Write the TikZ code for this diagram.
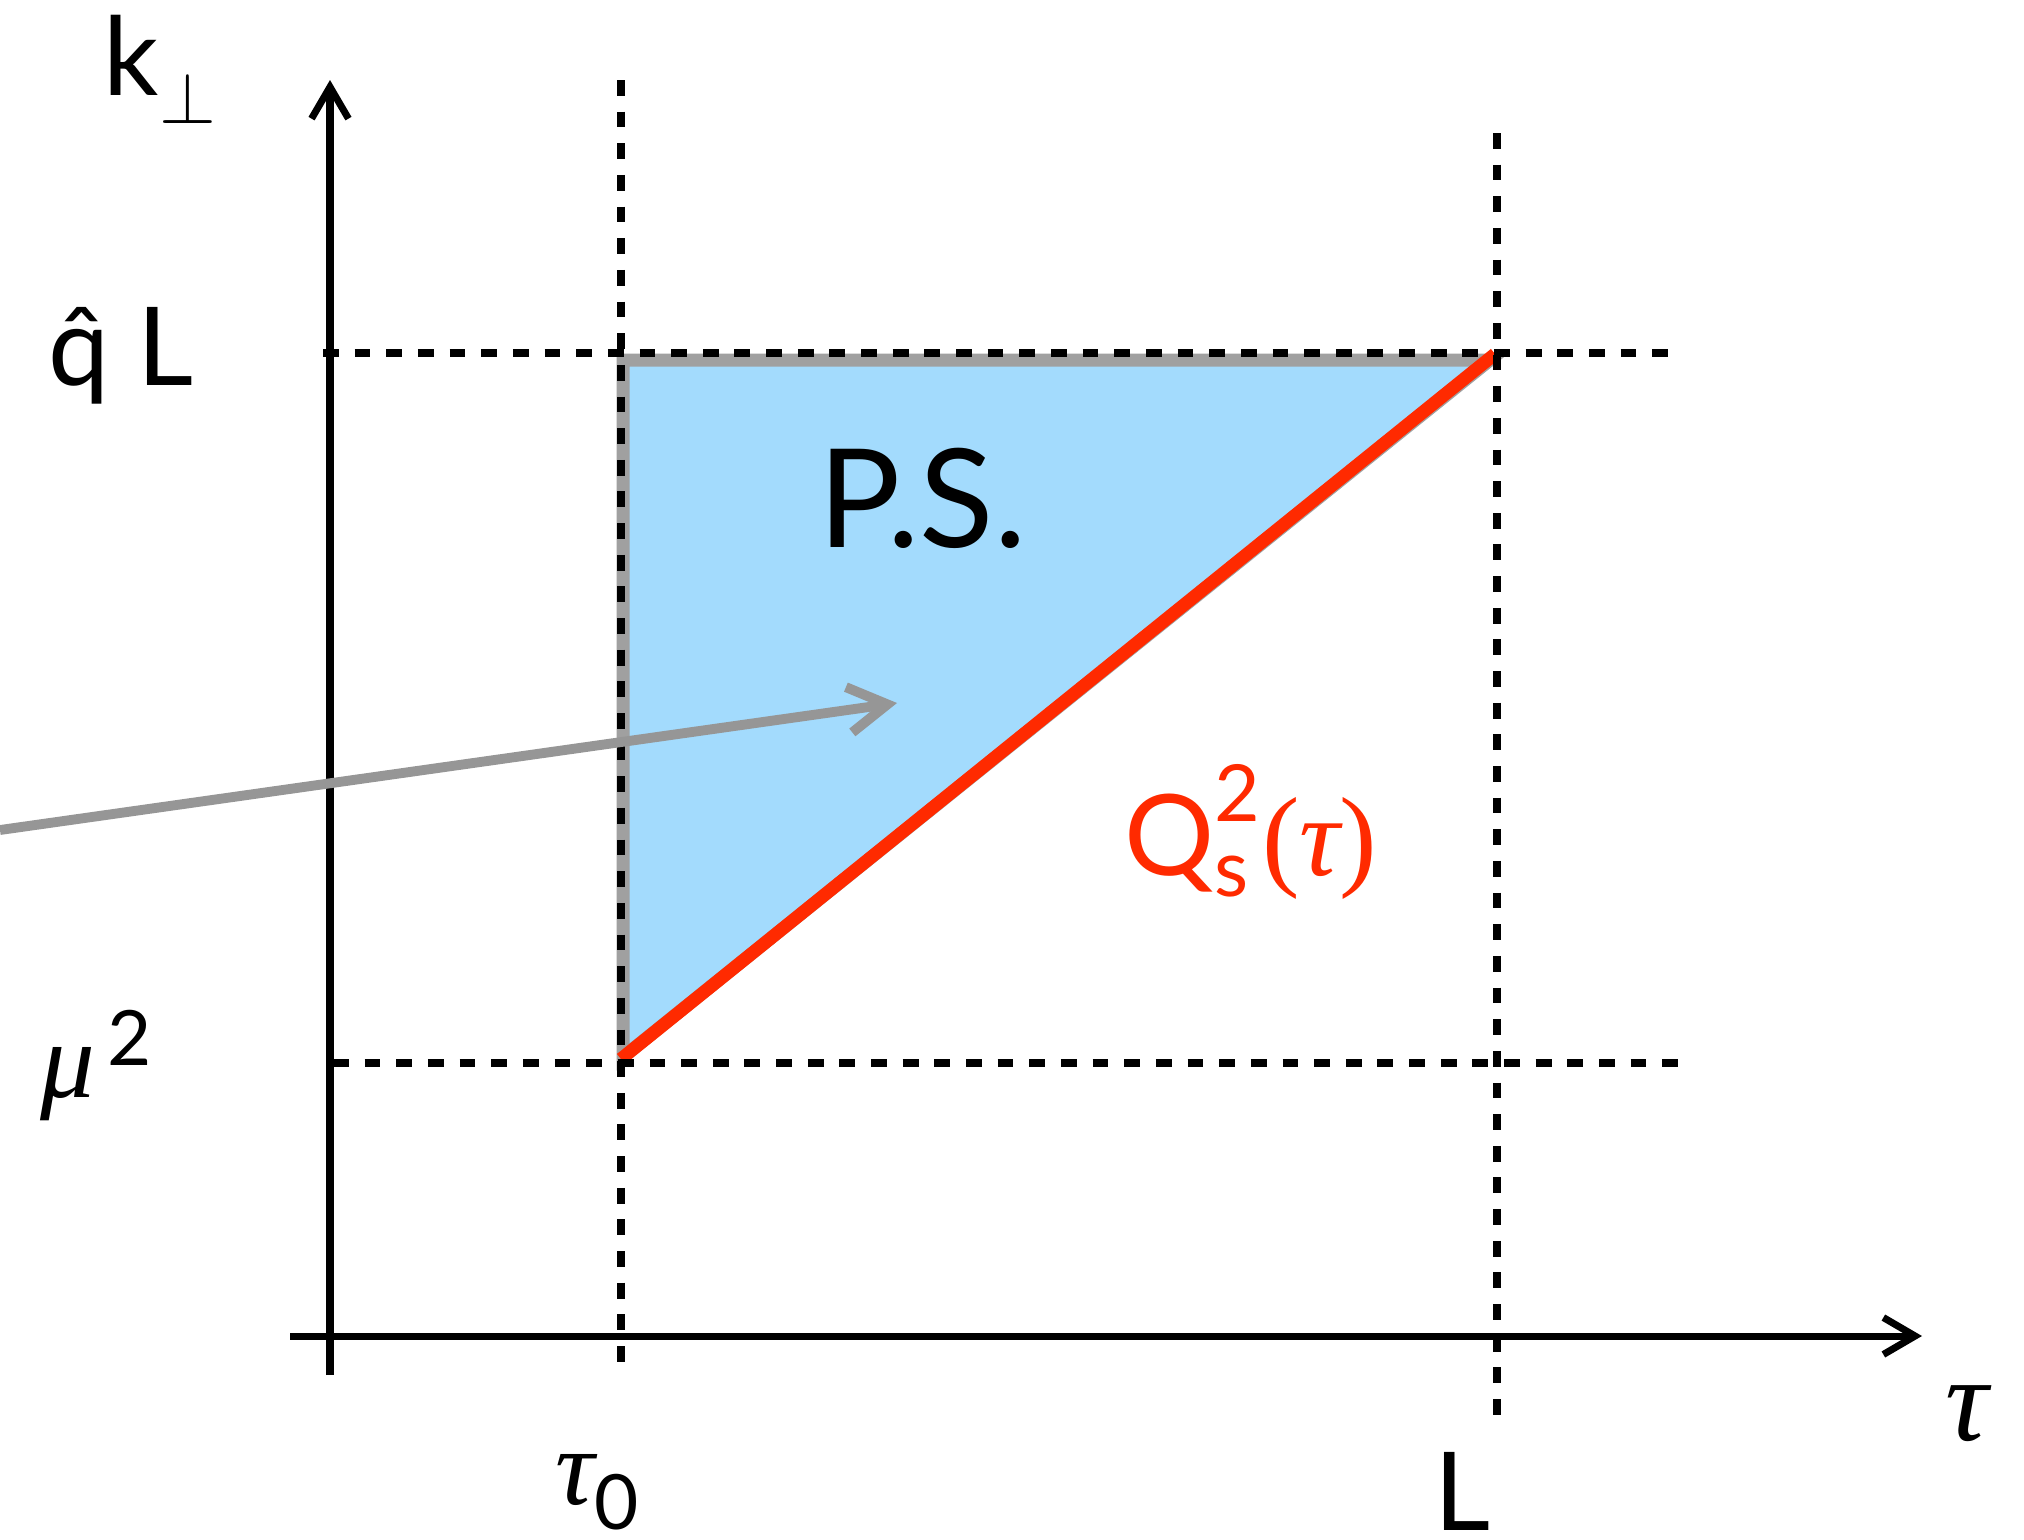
\documentclass[tikz,border=0pt]{standalone}
\usepackage{amsmath}
\usepackage{fontspec}
\setmainfont{Lato}
\newfontfamily\greekfont{Liberation Serif}
\usetikzlibrary{arrows.meta}
\definecolor{psblue}{HTML}{A3DBFD}
\definecolor{psgray}{HTML}{A0A0A0}
\definecolor{qsred}{HTML}{FF2A00}
\definecolor{arrowgray}{HTML}{969696}
\newcommand{\gtau}{\text{\greekfont\itshape τ}}
\newcommand{\gmu}{\text{\greekfont\itshape μ}}

\begin{document}
\begin{tikzpicture}[x=0.01cm,y=-0.01cm,
      axis line/.style={line width=2pt,-{Straight Barb[length=9pt,width=10.5pt]}},
      guide line/.style={line width=2.2pt,dash pattern=on 4.5pt off 4.5pt},
      label node/.style={inner sep=0pt,anchor=base west,font=\fontsize{31}{36}\selectfont}]
      \useasboundingbox (0,0) rectangle (2024,1539);

      % region and saturation line
      \coordinate (ps base) at (623,1057);
      \coordinate (ps top) at (623,360);
      \coordinate (ps corner) at (1490,360);
      \coordinate (qs start) at (621,1059);
      \coordinate (qs end) at (1495,354);
      \fill[psblue] (ps base) -- (ps top) -- (ps corner) -- cycle;
      \draw[psgray,line width=3.7pt,line join=miter] (ps base) -- (ps top) -- (ps corner) -- cycle;
      \draw[qsred,line width=3.7pt] (qs start) -- (qs end);

      % axes
      \coordinate (y low) at (330,1375);
      \coordinate (y high) at (330,80);
      \coordinate (x low) at (290,1336);
      \coordinate (x high) at (1922,1336);
      \draw[axis line] (y low) -- (y high);
      \draw[axis line] (x low) -- (x high);

      % guide lines
      \coordinate (t0 top) at (621,80);
      \coordinate (t0 bottom) at (621,1375);
      \coordinate (L top) at (1497,133);
      \coordinate (L bottom) at (1497,1429);
      \coordinate (qL left) at (323,353);
      \coordinate (qL right) at (1672,353);
      \coordinate (mu left) at (333,1063);
      \coordinate (mu right) at (1681,1063);
      \draw[guide line] (t0 top) -- (t0 bottom);
      \draw[guide line] (L top) -- (L bottom);
      \draw[guide line] (qL left) -- (qL right);
      \draw[guide line] (mu left) -- (mu right);

      % labels
      \node[label node] (kperp) at (103,95) {k\raisebox{-8pt}{\fontsize{22}{26}\selectfont$\perp$}};
      \node[label node] (qhatL) at (48,385) {q̂ L};
      \node[label node] (mu2) at (40,1097) {$\gmu^{\,\text{2}}$};
      \node[label node] (tau0) at (555,1504) {$\gtau_{\text{0}}$};
      \node[label node] (Lmark) at (1434,1530) {L};
      \node[label node,font=\fontsize{34}{40}\selectfont] (tau) at (1945,1440) {$\gtau$};
      \node[label node,font=\fontsize{39}{44}\selectfont] (ps) at (818,547) {P.S.};
      \node[label node,text=qsred,font=\fontsize{32}{38}\selectfont] (qs) at (1124,875) {$\text{Q}^{\text{2}}_{\text{s}}\text{\greekfont(}\gtau\text{\greekfont)}$};

      % incoming arrow
      \coordinate (in start) at (0,830);
      \coordinate (in end) at (897,703);
      \draw[arrowgray,line width=2.8pt,-{Straight Barb[length=11pt,width=13pt]}] (in start) -- (in end);
\end{tikzpicture}
\end{document}
